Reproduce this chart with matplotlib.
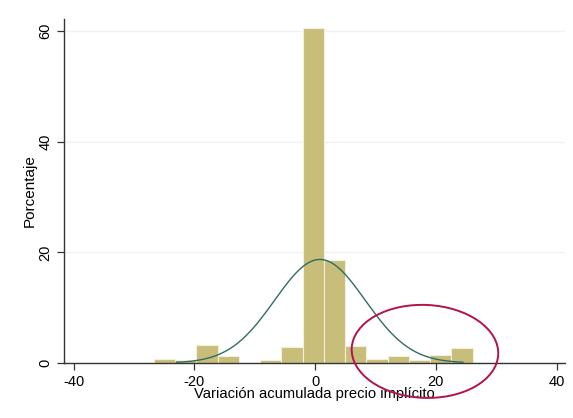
import numpy as np
import matplotlib
matplotlib.use("Agg")
import matplotlib.pyplot as plt
from matplotlib.patches import Ellipse

plt.rcParams["font.family"] = ["Liberation Sans", "DejaVu Sans"]
plt.rcParams["axes.unicode_minus"] = False

# histogram bins (left edge, width) and percentages
bin_start = -26.7
bin_width = 3.52
pct = [0.8, 0.5, 3.2, 1.2, 0.0, 0.6, 2.9, 60.5, 18.6, 3.0, 0.8, 1.3, 0.6, 1.5, 2.8]

# overlaid normal density (mean, sd) and its drawn range
norm_mean = 0.8
norm_sd = 7.5
norm_range = (-23.0, 24.5)

xticks = [-40, -20, 0, 20, 40]
yticks = [0, 20, 40, 60]

BAR = "#c8bd79"
CURVE = "#2e6e66"
RING = "#b3124e"

fig = plt.figure(figsize=(5.73, 4.18), dpi=100)
ax = fig.add_axes([64 / 573, 1 - 363 / 418, (565 - 64) / 573, (363 - 19) / 418])

lefts = bin_start + bin_width * np.arange(len(pct))
ax.bar(lefts, pct, width=bin_width, align="edge", color=BAR,
       edgecolor="#f2efdc", linewidth=0.8, zorder=2)

xs = np.linspace(*norm_range, 300)
dens = 100 * bin_width * np.exp(-0.5 * ((xs - norm_mean) / norm_sd) ** 2) / (norm_sd * np.sqrt(2 * np.pi))
ax.plot(xs, dens, color=CURVE, lw=1.0, zorder=3)

ax.add_patch(Ellipse((18.2, 2.1), 24.3, 16.8, angle=-3, fill=False,
                     edgecolor=RING, lw=1.4, clip_on=False, zorder=4))

ax.set_xlim(-41.6, 41.4)
ax.set_ylim(0, 62.2)
ax.set_xticks(xticks)
ax.set_yticks(yticks)
ax.tick_params(axis="both", labelsize=10.5, length=5, width=0.9, color="#333333")
ax.tick_params(axis="y", labelrotation=90)
for lab in ax.get_yticklabels():
    lab.set_va("center")
ax.yaxis.grid(True, color="#eef2f2", lw=1.0, zorder=0)
ax.set_axisbelow(True)
for s in ("top", "right"):
    ax.spines[s].set_visible(False)
for s in ("left", "bottom"):
    ax.spines[s].set_color("#333333")
    ax.spines[s].set_linewidth(1.0)

ax.set_xlabel("Variación acumulada precio implícito", fontsize=10.6, labelpad=-1.5)
ax.set_ylabel("Porcentaje", fontsize=11, labelpad=1)

fig.savefig("out.png", dpi=100)
